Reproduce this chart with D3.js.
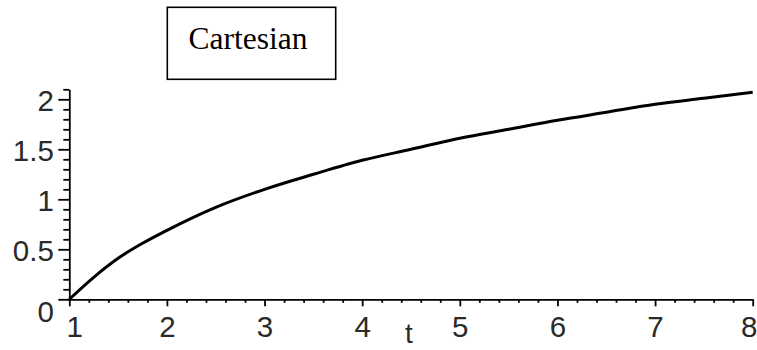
<!DOCTYPE html>
<html>
<head>
<meta charset="utf-8">
<script src="https://cdn.jsdelivr.net/npm/d3@7"></script>
<style>
  html, body { margin: 0; padding: 0; background: #fff; }
  svg { display: block; }
  .tick-label { font-family: "Liberation Sans", Arial, sans-serif; font-size: 29.5px; fill: #2a2a2a; }
</style>
</head>
<body>
<svg id="chart" width="757" height="350"></svg>
<script>
// Curve samples: t along the horizontal axis, value on the vertical axis
const tValues = [1, 1.25, 1.5, 1.75, 2, 2.5, 3, 3.5, 4, 4.5, 5, 5.5, 6, 6.5, 7, 7.5, 8];
const yValues = [0, 0.22, 0.41, 0.56, 0.69, 0.92, 1.10, 1.25, 1.39, 1.50, 1.61, 1.70, 1.79, 1.87, 1.95, 2.01, 2.07];

// Axis ticks
const xMajorTicks = [1, 2, 3, 4, 5, 6, 7, 8];
const xMinorTicks = d3.range(1, 8.001, 0.2).map(v => +v.toFixed(2)).filter(v => !xMajorTicks.includes(v));
const yMajorTicks = [0, 0.5, 1, 1.5, 2];
const yMajorLabels = ["0", "0.5", "1", "1.5", "2"];
const yMinorTicks = d3.range(0, 2.101, 0.1).map(v => +v.toFixed(2)).filter(v => !yMajorTicks.includes(v));

const titleText = "Cartesian";
const xAxisTitle = "t";

const svg = d3.select("#chart");

const x = d3.scaleLinear().domain([1, 8]).range([69.3, 752.7]);
const y = d3.scaleLinear().domain([0, 2.1]).range([299.3, 89.3]);

// Title box
svg.append("rect")
  .attr("x", 167.3).attr("y", 7.3)
  .attr("width", 168.4).attr("height", 72)
  .attr("fill", "none").attr("stroke", "#000").attr("stroke-width", 1.6);
svg.append("text")
  .attr("x", 188.5).attr("y", 48.5)
  .attr("font-family", "'Liberation Serif', 'Times New Roman', serif")
  .attr("font-size", 31.5)
  .attr("fill", "#000")
  .text(titleText);

// Horizontal axis (major + minor ticks)
const gx = svg.append("g").attr("transform", `translate(0,${y(0)})`);
gx.call(d3.axisBottom(x).tickValues(xMajorTicks).tickSize(7).tickSizeOuter(0).tickFormat(d3.format("d")));
const gxMinor = svg.append("g").attr("transform", `translate(0,${y(0)})`);
gxMinor.call(d3.axisBottom(x).tickValues(xMinorTicks).tickSize(3.5).tickSizeOuter(0).tickFormat(""));
gxMinor.select(".domain").remove();

// Vertical axis (major + minor ticks)
const gy = svg.append("g").attr("transform", `translate(${x(1)},0)`);
gy.call(d3.axisLeft(y).tickValues(yMajorTicks).tickSize(11).tickSizeOuter(0)
  .tickFormat((d, i) => yMajorLabels[i]));
const gyMinor = svg.append("g").attr("transform", `translate(${x(1)},0)`);
gyMinor.call(d3.axisLeft(y).tickValues(yMinorTicks).tickSize(6).tickSizeOuter(0).tickFormat(""));
gyMinor.select(".domain").remove();

// Axis styling
svg.selectAll(".domain").attr("stroke", "#000").attr("stroke-width", 1.8);
svg.selectAll(".tick line").attr("stroke", "#000").attr("stroke-width", 1.8);

gx.selectAll(".tick text")
  .attr("class", "tick-label")
  .attr("font-family", null).attr("font-size", null)
  .attr("y", 37.5).attr("dy", null)
  .attr("x", d => d === 1 ? 5 : d === 8 ? -4 : 0);

gy.selectAll(".tick text")
  .attr("class", "tick-label")
  .attr("font-family", null).attr("font-size", null)
  .attr("x", -15.5)
  .attr("dy", null)
  .attr("y", d => d === 0 ? 22 : 11);

// Axis title
svg.append("text")
  .attr("class", "tick-label")
  .attr("x", 409).attr("y", 343)
  .attr("font-size", 28)
  .style("font-size", "28px")
  .attr("text-anchor", "middle")
  .text(xAxisTitle);

// The curve
const points = tValues.map((t, i) => [t, yValues[i]]);
svg.append("path")
  .datum(points)
  .attr("fill", "none")
  .attr("stroke", "#000")
  .attr("stroke-width", 3)
  .attr("stroke-linejoin", "round")
  .attr("d", d3.line().x(d => x(d[0])).y(d => y(d[1])).curve(d3.curveMonotoneX));
</script>
</body>
</html>
